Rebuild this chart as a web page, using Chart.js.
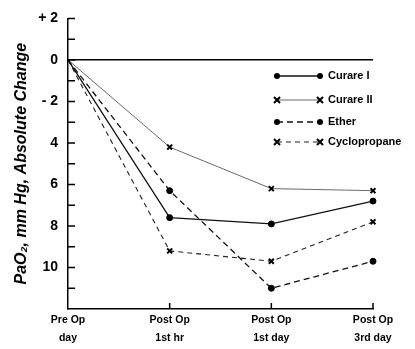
<!DOCTYPE html>
<html><head><meta charset="utf-8">
<script src="https://cdn.jsdelivr.net/npm/chart.js@4/dist/chart.umd.min.js"></script>
<style>html,body{margin:0;padding:0;background:#fff}#w{width:415px;height:349px;position:relative}</style>
</head><body><div id="w"><canvas id="c"></canvas></div>
<script>
const categories = [["Pre Op","day"],["Post Op","1st hr"],["Post Op","1st day"],["Post Op","3rd day"]];
const curare1 = [0, -7.6, -7.9, -6.8];
const curare2 = [0, -4.2, -6.2, -6.3];
const ether = [0, -6.3, -11.0, -9.7];
const cyclopropane = [0, -9.2, -9.7, -7.8];
const seriesNames = ["Curare I", "Curare II", "Ether", "Cyclopropane"];
const yLabels = {"2":"+ 2","0":"0","-2":"- 2","-4":"4","-6":"6","-8":"8","-10":"10"};

const FONT = "'Liberation Sans', Arial, sans-serif";
const styles = [
  {data: curare1, borderWidth: 1.3, borderDash: [], pointStyle: 'circle', r: 3, color: '#111'},
  {data: curare2, borderWidth: 0.8, borderDash: [], pointStyle: 'crossRot', r: 3.5, color: '#444'},
  {data: ether, borderWidth: 1.3, borderDash: [6, 4], pointStyle: 'circle', r: 3, color: '#111'},
  {data: cyclopropane, borderWidth: 1.1, borderDash: [5, 4], pointStyle: 'crossRot', r: 3.5, color: '#222'}
];
const datasets = styles.map((s, i) => ({
  label: seriesNames[i], data: s.data, borderColor: s.color, backgroundColor: s.color,
  borderWidth: s.borderWidth, borderDash: s.borderDash, pointStyle: s.pointStyle,
  pointRadius: s.data.map((v, j) => j === 0 ? 0 : s.r), pointBorderWidth: s.pointStyle === 'crossRot' ? 2 : 1,
  pointBorderColor: '#000', pointBackgroundColor: '#000', tension: 0, fill: false
}));

const inwardTicks = {
  id: 'inwardTicks',
  afterDatasetsDraw(chart) {
    const {ctx, scales: {x, y}, chartArea: a} = chart;
    ctx.save();
    ctx.strokeStyle = '#000'; ctx.lineWidth = 1.5;
    ctx.beginPath();
    for (let v = 2; v >= -11; v--) {
      const py = y.getPixelForValue(v);
      ctx.moveTo(a.left, py); ctx.lineTo(a.left + 7, py);
    }
    for (let i = 1; i < categories.length; i++) {
      const px = x.getPixelForValue(i);
      ctx.moveTo(px, a.bottom); ctx.lineTo(px, a.bottom - 6);
    }
    ctx.stroke();
    // legend
    const rows = [76, 100, 122, 142];
    ctx.font = "bold 11px " + FONT;
    ctx.textBaseline = 'middle';
    ctx.fillStyle = '#000';
    styles.forEach((s, i) => {
      const yy = rows[i], x0 = 277, x1 = 320;
      ctx.strokeStyle = s.color; ctx.lineWidth = s.borderWidth; ctx.setLineDash(s.borderDash);
      ctx.beginPath(); ctx.moveTo(x0, yy); ctx.lineTo(x1, yy); ctx.stroke();
      ctx.setLineDash([]);
      [x0, x1].forEach(px => {
        if (s.pointStyle === 'circle') {
          ctx.beginPath(); ctx.arc(px, yy, 3, 0, Math.PI * 2); ctx.fill();
        } else {
          ctx.strokeStyle = '#000'; ctx.lineWidth = 2;
          ctx.beginPath(); ctx.moveTo(px - 3, yy - 3); ctx.lineTo(px + 3, yy + 3);
          ctx.moveTo(px + 3, yy - 3); ctx.lineTo(px - 3, yy + 3); ctx.stroke();
        }
      });
      ctx.fillText(seriesNames[i], 328, yy);
    });
    ctx.restore();
  }
};

new Chart(document.getElementById('c'), {
  type: 'line',
  data: {labels: categories, datasets},
  options: {
    responsive: true, maintainAspectRatio: false, animation: false,
    layout: {padding: {left: 4, right: 42, top: 18, bottom: 4}},
    plugins: {legend: {display: false}, tooltip: {enabled: false}},
    scales: {
      x: {
        type: 'category', offset: false,
        grid: {display: false, drawTicks: false},
        border: {display: true, color: '#000', width: 1.5},
        ticks: {color: '#000', font: {family: FONT, weight: 'bold', size: 10.5, lineHeight: 1.75}, padding: 2, maxRotation: 0, autoSkip: false},
        afterFit(s) { s.height = 36; }
      },
      y: {
        min: -12, max: 2,
        grid: {drawTicks: false, color: c => c.tick && c.tick.value === 0 ? '#000' : 'rgba(0,0,0,0)', lineWidth: 1.5},
        border: {display: true, color: '#000', width: 1.5},
        ticks: {stepSize: 1, color: '#000', padding: 10, font: {family: FONT, weight: 'bold', size: 14},
          callback: v => (yLabels[String(v)] !== undefined ? yLabels[String(v)] : '')},
        title: {display: true, text: 'PaO\u2082, mm Hg, Absolute Change', color: '#000',
          font: {family: FONT, weight: 'bold', style: 'italic', size: 16}, padding: {top: 8, bottom: 0}},
        afterFit(s) { s.width = 64; }
      }
    }
  },
  plugins: [inwardTicks]
});
</script>
</body></html>
